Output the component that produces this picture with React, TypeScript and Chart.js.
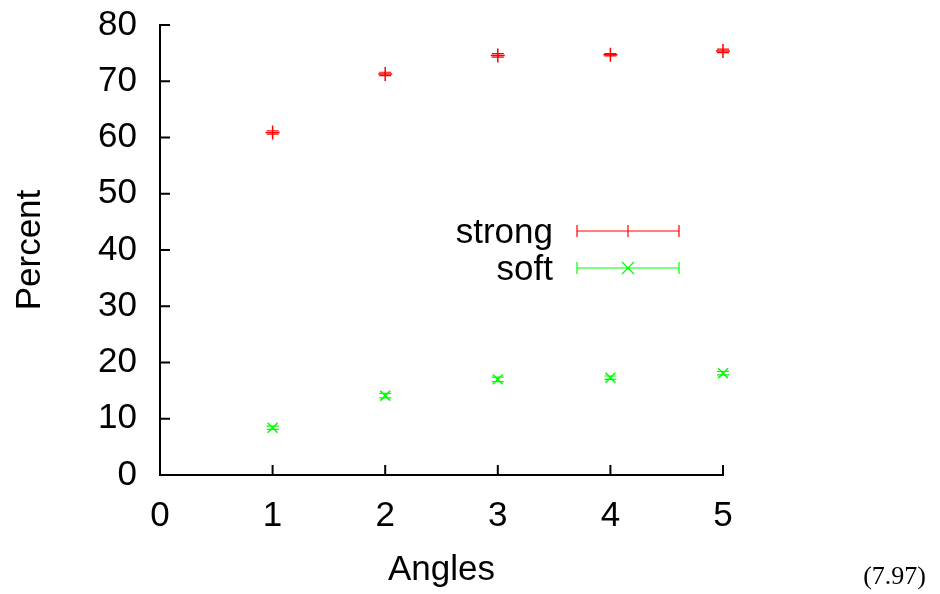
import React, { useEffect, useRef } from "react";
import { Chart, registerables } from "chart.js";

Chart.register(...registerables);

const angles = [1, 2, 3, 4, 5];
const strongValues = [60.9, 71.3, 74.6, 74.7, 75.4];
const strongErrors = [0.3, 0.3, 0.3, 0.2, 0.3];
const softValues = [8.4, 14.1, 17.0, 17.3, 18.1];
const softErrors = [0.3, 0.4, 0.4, 0.3, 0.3];
const seriesLabels = ["strong", "soft"];
const seriesColors = ["#ff0000", "#00ff00"];
const pointStyles = ["cross", "crossRot"];
const xTitle = "Angles";
const yTitle = "Percent";
const equationTag = "(7.97)";

const FONT = "'Liberation Sans', Arial, Helvetica, sans-serif";

const decorPlugin = {
  id: "decor",
  afterDatasetsDraw(chart: any) {
    const ctx = chart.ctx;
    const xs = chart.scales.x;
    const ys = chart.scales.y;
    const area = chart.chartArea;
    ctx.save();
    // error bars
    const errs = [strongErrors, softErrors];
    chart.data.datasets.forEach((ds: any, di: number) => {
      ctx.strokeStyle = seriesColors[di];
      ctx.lineWidth = 1.2;
      ds.data.forEach((p: any, i: number) => {
        const px = xs.getPixelForValue(p.x);
        const y1 = ys.getPixelForValue(p.y - errs[di][i]);
        const y2 = ys.getPixelForValue(p.y + errs[di][i]);
        ctx.beginPath();
        ctx.moveTo(px, y1);
        ctx.lineTo(px, y2);
        ctx.moveTo(px - 6, y1);
        ctx.lineTo(px + 6, y1);
        ctx.moveTo(px - 6, y2);
        ctx.lineTo(px + 6, y2);
        ctx.stroke();
      });
    });
    // inward ticks
    ctx.strokeStyle = "#000";
    ctx.lineWidth = 2;
    ys.ticks.forEach((t: any) => {
      const py = ys.getPixelForValue(t.value);
      ctx.beginPath();
      ctx.moveTo(area.left, py);
      ctx.lineTo(area.left + 10, py);
      ctx.stroke();
    });
    xs.ticks.forEach((t: any) => {
      const px = xs.getPixelForValue(t.value);
      ctx.beginPath();
      ctx.moveTo(px, area.bottom);
      ctx.lineTo(px, area.bottom - 10);
      ctx.stroke();
    });
    // legend
    ctx.font = `35px ${FONT}`;
    ctx.textAlign = "right";
    ctx.textBaseline = "middle";
    const legX0 = 577;
    const legX1 = 679;
    const legYs = [231, 268];
    seriesLabels.forEach((lab, i) => {
      const ly = legYs[i];
      ctx.fillStyle = "#000";
      ctx.fillText(lab, 553, ly + 2);
      ctx.strokeStyle = seriesColors[i];
      ctx.lineWidth = 1.2;
      ctx.beginPath();
      ctx.moveTo(legX0, ly);
      ctx.lineTo(legX1, ly);
      ctx.moveTo(legX0, ly - 6);
      ctx.lineTo(legX0, ly + 6);
      ctx.moveTo(legX1, ly - 6);
      ctx.lineTo(legX1, ly + 6);
      const cx = (legX0 + legX1) / 2;
      if (pointStyles[i] === "cross") {
        ctx.moveTo(cx, ly - 6);
        ctx.lineTo(cx, ly + 6);
      } else {
        ctx.moveTo(cx - 6, ly - 6);
        ctx.lineTo(cx + 6, ly + 6);
        ctx.moveTo(cx - 6, ly + 6);
        ctx.lineTo(cx + 6, ly - 6);
      }
      ctx.stroke();
    });
    // equation tag
    ctx.fillStyle = "#000";
    ctx.textAlign = "right";
    ctx.font = `26px 'Liberation Serif', 'DejaVu Serif', serif`;
    ctx.fillText(equationTag, 926, 577);
    ctx.restore();
  },
};

const zeroPad = (s: any) => {
  s.paddingTop = 0;
  s.paddingBottom = 0;
  s.paddingLeft = 0;
  s.paddingRight = 0;
};

export default function App() {
  const ref = useRef<HTMLCanvasElement | null>(null);
  useEffect(() => {
    if (!ref.current) return;
    const chart = new Chart(ref.current, {
      type: "scatter",
      data: {
        datasets: [
          {
            label: seriesLabels[0],
            data: angles.map((a, i) => ({ x: a, y: strongValues[i] })),
            pointStyle: pointStyles[0] as any,
            radius: 7,
            borderColor: seriesColors[0],
            backgroundColor: seriesColors[0],
            borderWidth: 1.5,
            clip: false as any,
          },
          {
            label: seriesLabels[1],
            data: angles.map((a, i) => ({ x: a, y: softValues[i] })),
            pointStyle: pointStyles[1] as any,
            radius: 7,
            borderColor: seriesColors[1],
            backgroundColor: seriesColors[1],
            borderWidth: 1.5,
            clip: false as any,
          },
        ],
      },
      options: {
        animation: false,
        responsive: false,
        layout: { padding: { left: 0, top: 25, right: 217, bottom: 0 } },
        plugins: { legend: { display: false }, tooltip: { enabled: false } },
        scales: {
          x: {
            type: "linear",
            min: 0,
            max: 5,
            grid: { display: false, drawTicks: false },
            border: { display: true, color: "#000", width: 2 },
            ticks: {
              stepSize: 1,
              color: "#000",
              font: { family: FONT, size: 35 },
              padding: 20,
              maxRotation: 0,
            },
            title: {
              display: true,
              text: xTitle,
              color: "#000",
              font: { family: FONT, size: 35 },
              padding: { top: 0, bottom: 3 },
            },
            afterFit: (s: any) => {
              s.height = 119;
              zeroPad(s);
            },
          },
          y: {
            type: "linear",
            min: 0,
            max: 80,
            grid: { display: false, drawTicks: false },
            border: { display: true, color: "#000", width: 2 },
            ticks: {
              stepSize: 10,
              color: "#000",
              font: { family: FONT, size: 35 },
              padding: 23,
            },
            title: {
              display: true,
              text: yTitle,
              color: "#000",
              font: { family: FONT, size: 35 },
              padding: { top: 9, bottom: 0 },
            },
            afterFit: (s: any) => {
              s.width = 160;
              zeroPad(s);
            },
          },
        },
      },
      plugins: [decorPlugin],
    });
    return () => chart.destroy();
  }, []);
  return (
    <div style={{ position: "fixed", left: 0, top: 0, width: 940, height: 594, background: "#fff" }}>
      <canvas ref={ref} width={940} height={594} style={{ width: 940, height: 594 }} />
    </div>
  );
}
